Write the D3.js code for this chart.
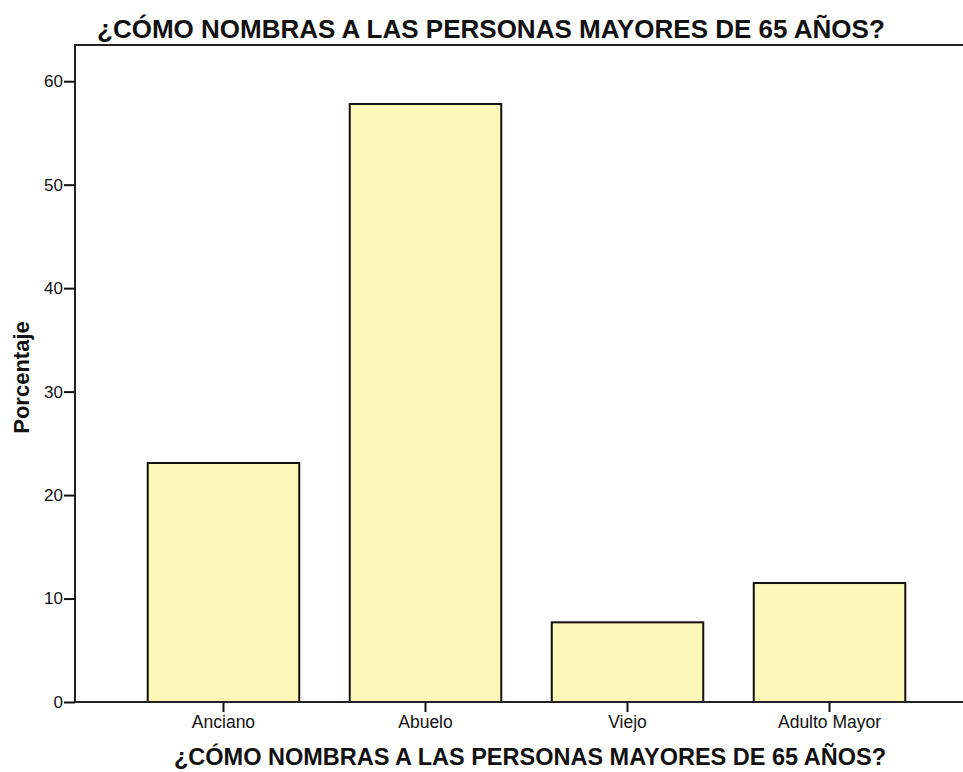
<!DOCTYPE html>
<html>
<head>
<meta charset="utf-8">
<script src="https://cdn.jsdelivr.net/npm/d3@7"></script>
<style>
  body { margin: 0; background: #fff; }
  svg { display: block; font-family: 'Liberation Sans', Arial, sans-serif; }
  .tick text { fill: #111; }
</style>
</head>
<body>
<svg id="chart" width="963" height="772"></svg>
<script>
// data
const categories = ['Anciano', 'Abuelo', 'Viejo', 'Adulto Mayor']
const percents = [23.1, 57.8, 7.7, 11.5]
const yTicks = [0, 10, 20, 30, 40, 50, 60]
const title = '¿CÓMO NOMBRAS A LAS PERSONAS MAYORES DE 65 AÑOS?'
const yLabel = 'Porcentaje'

const svg = d3.select('#chart')
const plotLeft = 75
const plotTop = 45
const plotBottom = 702
const plotRight = 978 // frame runs off the right edge

const x = d3.scaleBand()
  .domain(categories)
  .range([plotLeft, plotRight])
  .paddingInner(0.25)
  .paddingOuter(0.36)

const y = d3.scaleLinear()
  .domain([0, 63.5])
  .range([plotBottom, plotTop])

// bars
svg.append('g').selectAll('rect')
  .data(categories)
  .enter().append('rect')
  .attr('x', d => x(d))
  .attr('y', (d, i) => y(percents[i]))
  .attr('width', x.bandwidth())
  .attr('height', (d, i) => y(0) - y(percents[i]))
  .attr('fill', '#fdf8b8')
  .attr('stroke', '#111')
  .attr('stroke-width', 2)

// frame
svg.append('rect')
  .attr('x', plotLeft)
  .attr('y', plotTop)
  .attr('width', plotRight - plotLeft)
  .attr('height', plotBottom - plotTop)
  .attr('fill', 'none')
  .attr('stroke', '#222')
  .attr('stroke-width', 2)

const yAxisG = svg.append('g')
  .attr('transform', `translate(${plotLeft},0)`)
  .call(d3.axisLeft(y).tickValues(yTicks).tickSize(11).tickPadding(1).tickFormat(d3.format('d')))
yAxisG.select('.domain').remove()
yAxisG.selectAll('.tick line').attr('stroke', '#111').attr('stroke-width', 2)
yAxisG.selectAll('.tick text').attr('font-size', 17)

const xAxisG = svg.append('g')
  .attr('transform', `translate(0,${plotBottom})`)
  .call(d3.axisBottom(x).tickSize(10).tickPadding(4))
xAxisG.select('.domain').remove()
xAxisG.selectAll('.tick line').attr('stroke', '#111').attr('stroke-width', 2)
xAxisG.selectAll('.tick text').attr('font-size', 17.5)

// titles
svg.append('text')
  .attr('x', 97)
  .attr('y', 38)
  .attr('font-size', 26)
  .attr('font-weight', 'bold')
  .attr('fill', '#111')
  .text(title)

svg.append('text')
  .attr('x', 530)
  .attr('y', 765)
  .attr('text-anchor', 'middle')
  .attr('font-size', 23.5)
  .attr('font-weight', 'bold')
  .attr('fill', '#111')
  .text(title)

svg.append('text')
  .attr('transform', `translate(29,${(plotTop + plotBottom) / 2 + 4}) rotate(-90)`)
  .attr('text-anchor', 'middle')
  .attr('font-size', 22)
  .attr('font-weight', 'bold')
  .attr('fill', '#111')
  .text(yLabel)
</script>
</body>
</html>
